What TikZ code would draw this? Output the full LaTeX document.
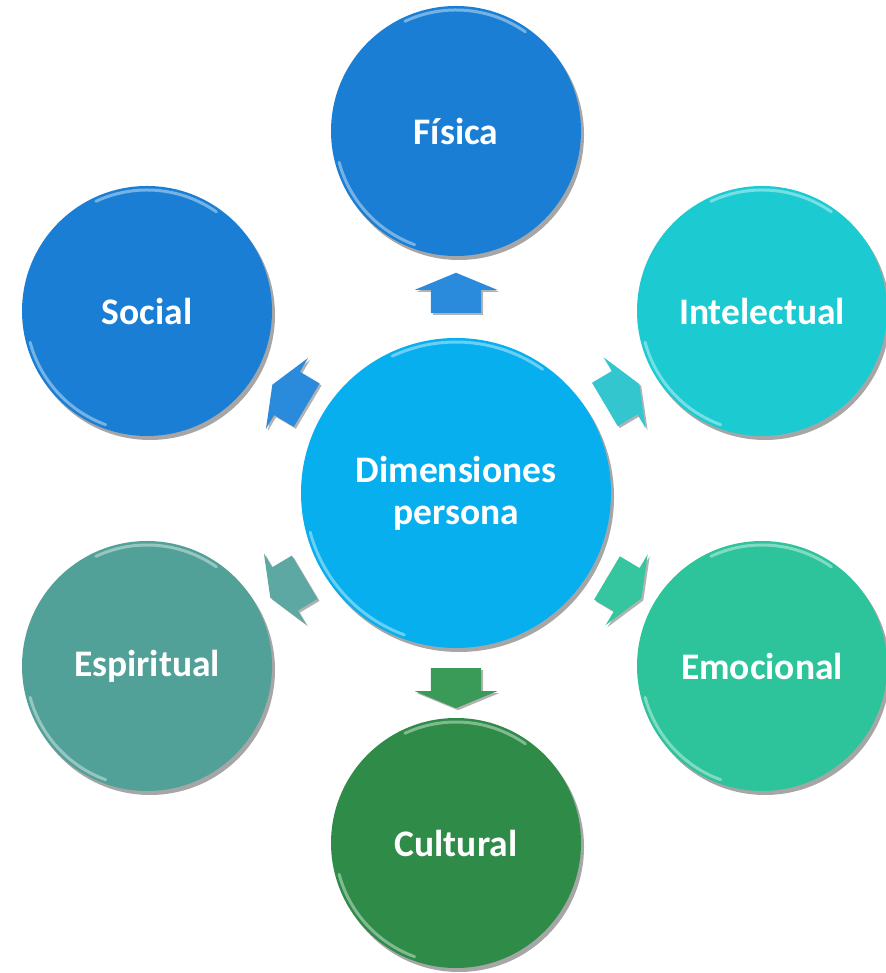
\documentclass[tikz,border=0pt]{standalone}
\usepackage{fontspec}
\setmainfont{Carlito}
\usetikzlibrary{shapes.arrows,shadows,calc}
\definecolor{cBlue}{HTML}{1A7FD4}
\definecolor{cCenter}{HTML}{07AFEF}
\definecolor{cCyan}{HTML}{1CCAD2}
\definecolor{cTeal}{HTML}{2EC49B}
\definecolor{cGreen}{HTML}{2E8B48}
\definecolor{cGrey}{HTML}{52A199}
\definecolor{aBlue}{HTML}{2A8ADB}
\definecolor{aCyan}{HTML}{33C6CF}
\definecolor{aTeal}{HTML}{35C69F}
\definecolor{aGreen}{HTML}{3A9A58}
\definecolor{aGrey}{HTML}{5DA8A2}
\newcommand\rimhl[2]{%
  \draw[white,opacity=0.4,line width=3pt,line cap=round] ($(#1)+(115:#2)$) arc[start angle=115,end angle=55,radius=#2];
  \draw[white,opacity=0.4,line width=3pt,line cap=round] ($(#1)+(195:#2)$) arc[start angle=195,end angle=250,radius=#2];
}
\begin{document}
\begin{tikzpicture}[x=1pt,y=1pt,
  ball/.style={circle, minimum size=250pt, inner sep=0pt, text=white,
    font=\fontsize{37.5}{42}\selectfont\bfseries, align=center,
    drop shadow={shadow xshift=3pt,shadow yshift=-4pt,opacity=0.35,fill=black}},
  barrow/.style={single arrow, minimum height=40pt, inner xsep=0pt, inner ysep=25pt,
    single arrow head extend=16pt, single arrow tip angle=135,
    drop shadow={shadow xshift=2pt,shadow yshift=-2pt,opacity=0.3,fill=black}},
]
\useasboundingbox (0,0) rectangle (885,973);
% outer circles
\node[ball, fill=cBlue] (fis) at (456,842) {Física};
\node[ball, fill=cBlue] (soc) at (147,662) {Social};
\node[ball, fill=cCyan] (int) at (762,662) {Intelectual};
\node[ball, fill=cGrey] (esp) at (147,307) {Espiritual};
\node[ball, fill=cTeal] (emo) at (762,307) {Emocional};
\node[ball, fill=cGreen] (cul) at (456,130) {Cultural};
% centre
\node[ball, fill=cCenter, minimum size=310pt] (cen) at (456,480) {Dimensiones\\persona};
% highlights
\rimhl{fis.center}{121}
\rimhl{soc.center}{121}
\rimhl{int.center}{121}
\rimhl{esp.center}{121}
\rimhl{emo.center}{121}
\rimhl{cul.center}{121}
\rimhl{cen.center}{151}
% arrows
\node[barrow, fill=aBlue, rotate=90] (a1) at ($(cen.center)!195pt!(fis.center)$) {};
\node[barrow, fill=aBlue, rotate=149.3] (a2) at ($(cen.center)!188pt!(soc.center)$) {};
\node[barrow, fill=aCyan, rotate=30.7] (a3) at ($(cen.center)!188pt!(int.center)$) {};
\node[barrow, fill=aGrey, rotate=210.7] (a4) at ($(cen.center)!188pt!(esp.center)$) {};
\node[barrow, fill=aTeal, rotate=-30.7] (a5) at ($(cen.center)!188pt!(emo.center)$) {};
\node[barrow, fill=aGreen, rotate=270] (a6) at ($(cen.center)!190pt!(cul.center)$) {};
\end{tikzpicture}
\end{document}
